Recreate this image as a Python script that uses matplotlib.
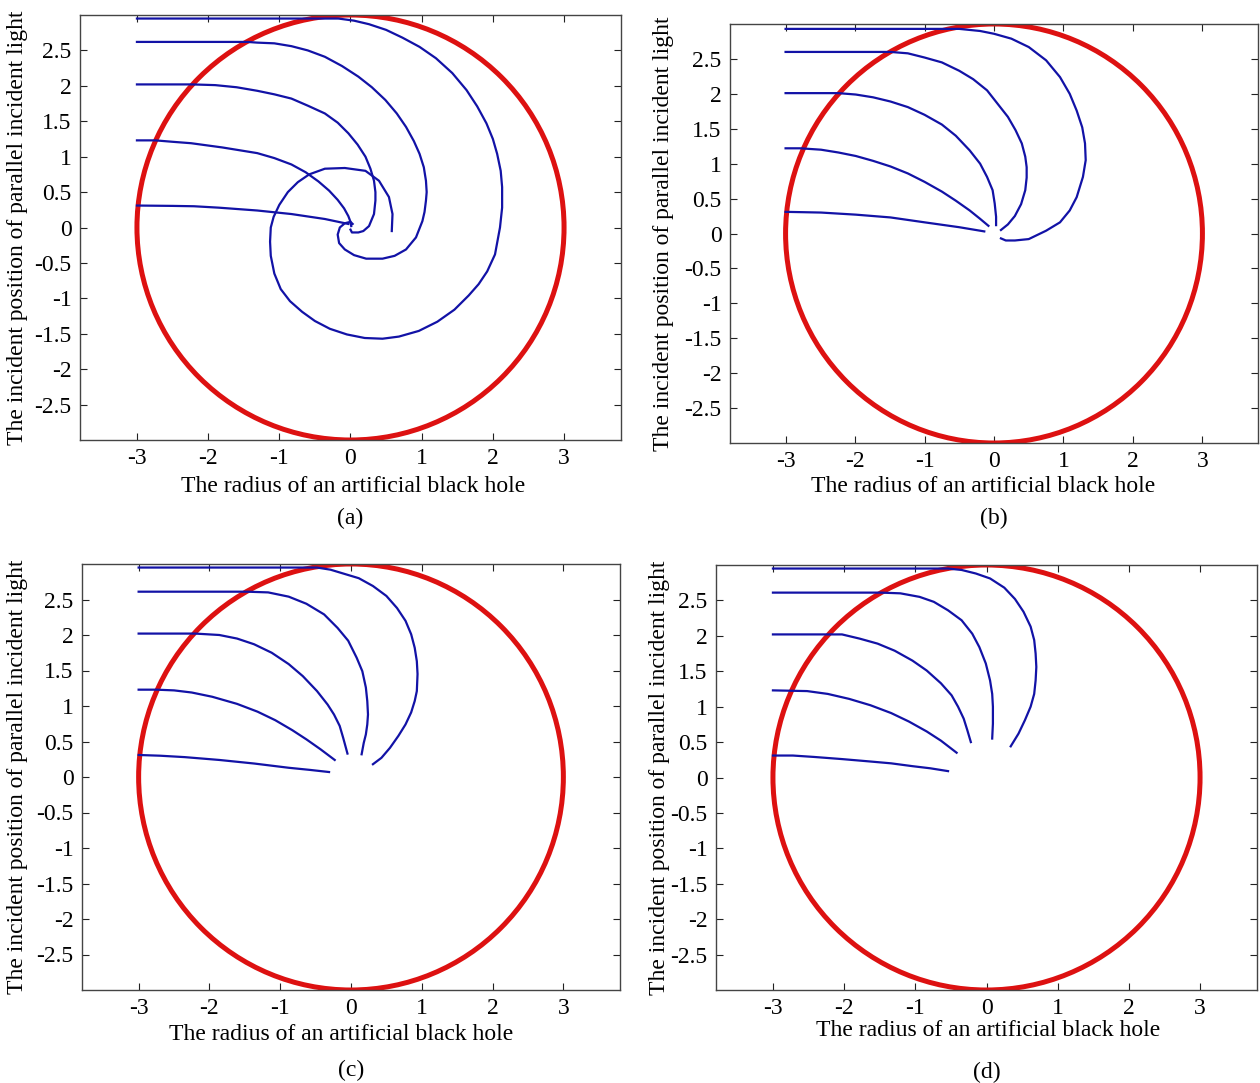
import numpy as np
import matplotlib
matplotlib.use('Agg')
import matplotlib.pyplot as plt
from matplotlib.patches import Circle

plt.rcParams['font.family'] = ['Liberation Serif', 'DejaVu Serif']
plt.rcParams['axes.unicode_minus'] = False

# black hole boundary
circle_radius = 3

x_ticks = [-3, -2, -1, 0, 1, 2, 3]
x_tick_labels = ['-3', '-2', '-1', '0', '1', '2', '3']
y_ticks = [-2.5, -2, -1.5, -1, -0.5, 0, 0.5, 1, 1.5, 2, 2.5]
y_tick_labels = ['-2.5', '-2', '-1.5', '-1', '-0.5', '0', '0.5', '1', '1.5', '2', '2.5']

x_label = 'The radius of an artificial black hole'
y_label = 'The incident position of parallel incident light'
panel_names = ['(a)', '(b)', '(c)', '(d)']

# panel (a)
a1_x = [-3, -0.55, -0.17, 0.05, 0.26, 0.50, 0.73, 0.97, 1.20, 1.43, 1.63, 1.78, 1.91, 2.00,
        2.06, 2.11, 2.13, 2.13, 2.10, 2.03, 1.92, 1.80, 1.66, 1.46, 1.22, 0.96, 0.68, 0.45,
        0.20, -0.05, -0.29, -0.50, -0.68, -0.85, -0.98, -1.07, -1.12, -1.13, -1.12, -1.08,
        -1.00, -0.88, -0.74, -0.58, -0.36, -0.08, 0.21, 0.40, 0.54, 0.59, 0.58]
a1_y = [2.95, 2.95, 2.95, 2.92, 2.87, 2.79, 2.68, 2.55, 2.39, 2.18, 1.94, 1.71, 1.47, 1.25,
        1.04, 0.80, 0.57, 0.28, 0.00, -0.38, -0.62, -0.80, -0.96, -1.16, -1.33, -1.46, -1.54,
        -1.57, -1.56, -1.51, -1.43, -1.32, -1.19, -1.04, -0.87, -0.65, -0.40, -0.20, 0.00,
        0.15, 0.32, 0.50, 0.64, 0.75, 0.83, 0.84, 0.80, 0.66, 0.43, 0.19, -0.05]
a2_x = [-3, -1.45, -1.31, -1.07, -0.83, -0.60, -0.36, -0.12, 0.11, 0.30, 0.49, 0.65, 0.78,
        0.89, 0.97, 1.03, 1.06, 1.07, 1.06, 1.04, 1.01, 0.92, 0.78, 0.62, 0.45, 0.22, 0.05,
        -0.08, -0.16, -0.18, -0.15, -0.08, 0.00, 0.03]
a2_y = [2.62, 2.62, 2.61, 2.60, 2.56, 2.50, 2.41, 2.28, 2.13, 1.98, 1.80, 1.61, 1.42,
        1.22, 1.04, 0.85, 0.66, 0.50, 0.38, 0.22, 0.09, -0.14, -0.31, -0.40, -0.44, -0.44,
        -0.39, -0.31, -0.22, -0.10, 0.00, 0.06, 0.08, 0.05]
a3_x = [-3, -2.22, -1.90, -1.60, -1.31, -1.07, -0.83, -0.60, -0.36, -0.18, -0.03, 0.10,
        0.21, 0.28, 0.33, 0.35, 0.35, 0.33, 0.26, 0.18, 0.11, 0.02, 0.00]
a3_y = [2.02, 2.02, 2.01, 1.98, 1.93, 1.88, 1.82, 1.72, 1.61, 1.48, 1.33, 1.17,
        1.00, 0.83, 0.66, 0.50, 0.38, 0.19, 0.02, -0.05, -0.07, -0.07, -0.03]
a4_x = [-3, -2.74, -2.50, -2.24, -1.80, -1.31, -1.07, -0.83, -0.63, -0.45, -0.30, -0.18,
        -0.09, -0.03, 0.00, 0.01]
a4_y = [1.23, 1.23, 1.21, 1.19, 1.13, 1.05, 0.98, 0.89, 0.78, 0.65, 0.52, 0.39,
        0.27, 0.16, 0.08, 0.02]
a5_x = [-3, -2.50, -2.20, -1.85, -1.31, -0.83, -0.36, -0.03]
a5_y = [0.31, 0.305, 0.30, 0.28, 0.24, 0.19, 0.12, 0.05]

# panel (b)
b1_x = [-3, -0.50, -0.20, 0.00, 0.25, 0.50, 0.75, 0.95, 1.09, 1.19, 1.27, 1.31, 1.32,
        1.28, 1.19, 1.09, 0.95, 0.75, 0.50, 0.30, 0.17, 0.10]
b1_y = [2.93, 2.93, 2.90, 2.86, 2.79, 2.67, 2.48, 2.24, 2.00, 1.76, 1.52, 1.29, 1.05,
        0.81, 0.52, 0.33, 0.16, 0.04, -0.08, -0.10, -0.10, -0.07]
b2_x = [-3, -1.49, -1.24, -1.00, -0.75, -0.50, -0.30, -0.10, 0.05, 0.20, 0.31, 0.40,
        0.45, 0.47, 0.47, 0.45, 0.39, 0.30, 0.20, 0.10]
b2_y = [2.60, 2.60, 2.58, 2.52, 2.45, 2.33, 2.21, 2.05, 1.86, 1.67, 1.48, 1.29,
        1.10, 0.95, 0.80, 0.62, 0.42, 0.25, 0.13, 0.05]
b3_x = [-3, -2.24, -1.99, -1.74, -1.49, -1.24, -1.00, -0.75, -0.55, -0.35, -0.20, -0.10,
        -0.02, 0.01, 0.03, 0.03]
b3_y = [2.01, 2.01, 1.99, 1.95, 1.89, 1.81, 1.70, 1.56, 1.40, 1.19, 1.00, 0.81,
        0.62, 0.43, 0.24, 0.12]
b4_x = [-3, -2.79, -2.49, -2.24, -1.99, -1.74, -1.49, -1.24, -1.00, -0.75, -0.55, -0.35,
        -0.20, -0.08]
b4_y = [1.22, 1.22, 1.20, 1.16, 1.11, 1.04, 0.96, 0.86, 0.74, 0.60, 0.47, 0.33,
        0.21, 0.11]
b5_x = [-3, -2.74, -2.49, -1.99, -1.49, -1.00, -0.50, -0.14]
b5_y = [0.31, 0.305, 0.30, 0.27, 0.23, 0.16, 0.09, 0.03]

# panel (c)
c1_x = [-3, -0.48, -0.29, -0.09, 0.11, 0.31, 0.50, 0.65, 0.77, 0.85, 0.90, 0.93, 0.94,
        0.93, 0.90, 0.85, 0.77, 0.67, 0.55, 0.43, 0.31]
c1_y = [2.95, 2.95, 2.92, 2.86, 2.80, 2.69, 2.55, 2.38, 2.20, 2.01, 1.82, 1.63, 1.45,
        1.21, 1.07, 0.91, 0.74, 0.58, 0.41, 0.27, 0.18]
c2_x = [-3, -1.47, -1.17, -0.88, -0.63, -0.38, -0.19, -0.04, 0.08, 0.16, 0.21, 0.23,
        0.24, 0.23, 0.21, 0.18, 0.15]
c2_y = [2.61, 2.61, 2.60, 2.54, 2.44, 2.29, 2.10, 1.92, 1.68, 1.49, 1.26, 1.07,
        0.88, 0.74, 0.60, 0.48, 0.32]
c3_x = [-3, -2.20, -1.86, -1.61, -1.37, -1.12, -0.88, -0.68, -0.48, -0.33, -0.24, -0.16,
        -0.11, -0.08, -0.05]
c3_y = [2.02, 2.02, 2.00, 1.95, 1.87, 1.75, 1.59, 1.42, 1.21, 1.02, 0.88, 0.72,
        0.55, 0.44, 0.33]
c4_x = [-3, -2.75, -2.50, -2.25, -1.96, -1.61, -1.32, -1.07, -0.83, -0.63, -0.43, -0.31,
        -0.23]
c4_y = [1.23, 1.23, 1.22, 1.19, 1.13, 1.03, 0.92, 0.80, 0.66, 0.53, 0.39, 0.30,
        0.24]
c5_x = [-3, -2.70, -2.35, -1.86, -1.37, -0.88, -0.58, -0.31]
c5_y = [0.31, 0.30, 0.28, 0.24, 0.19, 0.13, 0.10, 0.07]

# panel (d)
d1_x = [-3, -0.54, -0.35, -0.15, 0.05, 0.25, 0.40, 0.52, 0.62, 0.67, 0.69, 0.70, 0.69,
        0.67, 0.62, 0.54, 0.45, 0.34]
d1_y = [2.95, 2.95, 2.93, 2.88, 2.81, 2.68, 2.52, 2.34, 2.13, 1.94, 1.75, 1.56, 1.37,
        1.18, 1.00, 0.81, 0.62, 0.44]
d2_x = [-3, -1.48, -1.21, -0.94, -0.74, -0.54, -0.35, -0.20, -0.10, -0.01, 0.05, 0.08,
        0.09, 0.09, 0.08]
d2_y = [2.61, 2.61, 2.60, 2.55, 2.48, 2.36, 2.22, 2.03, 1.84, 1.61, 1.37, 1.18,
        1.00, 0.76, 0.55]
d3_x = [-3, -2.03, -1.78, -1.53, -1.29, -1.04, -0.84, -0.64, -0.49, -0.40, -0.32, -0.27,
        -0.22]
d3_y = [2.02, 2.02, 1.96, 1.89, 1.79, 1.65, 1.51, 1.33, 1.16, 1.00, 0.83, 0.67,
        0.50]
d4_x = [-3, -2.52, -2.23, -1.93, -1.63, -1.34, -1.09, -0.84, -0.64, -0.42]
d4_y = [1.23, 1.22, 1.18, 1.11, 1.02, 0.91, 0.79, 0.65, 0.52, 0.35]
d5_x = [-3, -2.72, -2.42, -2.03, -1.68, -1.34, -1.04, -0.79, -0.54]
d5_y = [0.31, 0.31, 0.29, 0.26, 0.23, 0.20, 0.16, 0.13, 0.09]

rays = [
    [(a1_x, a1_y), (a2_x, a2_y), (a3_x, a3_y), (a4_x, a4_y), (a5_x, a5_y)],
    [(b1_x, b1_y), (b2_x, b2_y), (b3_x, b3_y), (b4_x, b4_y), (b5_x, b5_y)],
    [(c1_x, c1_y), (c2_x, c2_y), (c3_x, c3_y), (c4_x, c4_y), (c5_x, c5_y)],
    [(d1_x, d1_y), (d2_x, d2_y), (d3_x, d3_y), (d4_x, d4_y), (d5_x, d5_y)],
]

W, H = 1260, 1083
# axes boxes in pixels: left, right, top, bottom
boxes = [(80, 621, 15, 440), (730, 1258, 24, 443),
         (82, 620, 564, 990), (716, 1257, 565, 990)]
# (ylabel x, xlabel x, xlabel y, panel name y) in pixels
label_pos = [(18, 353, 487, 518), (663, 983, 487, 518),
             (18, 341, 1035, 1070), (660, 988, 1031, 1072)]

fig = plt.figure(figsize=(W / 100, H / 100), dpi=100)

for k in range(4):
    l, r, t, b = boxes[k]
    ax = fig.add_axes([l / W, 1 - b / H, (r - l) / W, (b - t) / H])
    ax.add_patch(Circle((0, 0), circle_radius, fill=False, edgecolor='#dd1111',
                        linewidth=3.6, zorder=2))
    for xs, ys in rays[k]:
        ax.plot(xs, ys, color='#1212a6', linewidth=1.6, zorder=3,
                solid_joinstyle='round')
    ax.set_xlim(-3.8, 3.8)
    ax.set_ylim(-3, 3)
    ax.set_xticks(x_ticks)
    ax.set_xticklabels(x_tick_labels)
    ax.set_yticks(y_ticks)
    ax.set_yticklabels(y_tick_labels)
    ax.tick_params(direction='in', top=True, right=True, length=5, width=0.8,
                   labelsize=17, pad=6, colors='#222222', labelcolor='black')
    for s in ax.spines.values():
        s.set_linewidth(1.0)
        s.set_color('#444444')

    ylx, xlx, xly, ny = label_pos[k]
    fig.text(ylx / W, 1 - (t + b) / 2 / H, y_label, rotation=90, fontsize=17,
             ha='center', va='center')
    fig.text(xlx / W, 1 - xly / H, x_label, fontsize=17, ha='center', va='center')
    fig.text((l + r) / 2 / W, 1 - ny / H, panel_names[k], fontsize=17,
             ha='center', va='center')

fig.savefig('out.png', dpi=100, facecolor='white')
